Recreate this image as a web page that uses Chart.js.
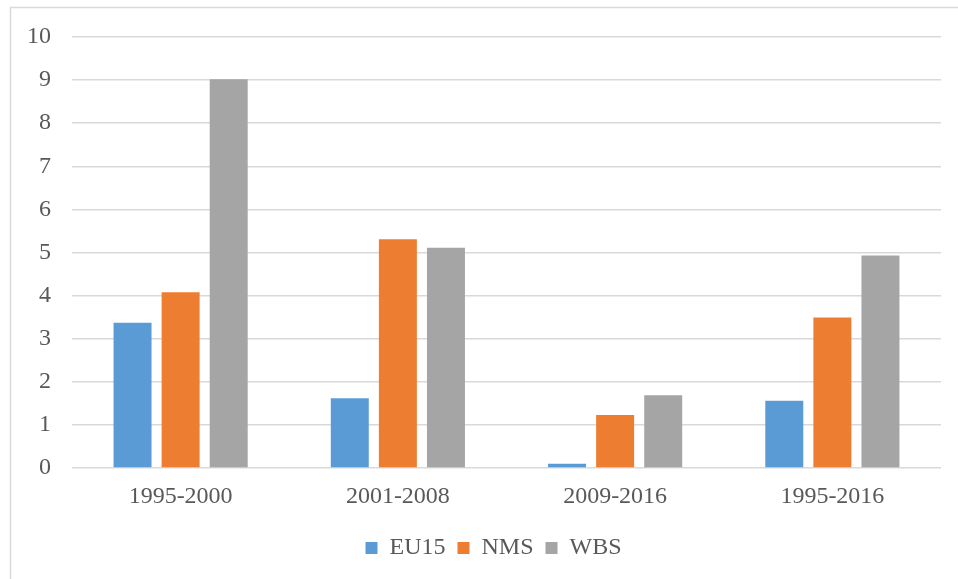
<!DOCTYPE html>
<html>
<head>
<meta charset="utf-8">
<script src="https://cdn.jsdelivr.net/npm/chart.js@4"></script>
<style>
  body { margin: 0; background: #fff; }
  #wrap { width: 958px; height: 579px; position: relative; }
</style>
</head>
<body>
<div id="wrap"><canvas id="myChart"></canvas></div>
<script>
// data
const periods = ["1995-2000", "2001-2008", "2009-2016", "1995-2016"];
const eu15 = [3.37, 1.62, 0.1, 1.56];
const nms = [4.08, 5.31, 1.23, 3.49];
const wbs = [9.02, 5.11, 1.69, 4.93];
const yTicks = [0, 1, 2, 3, 4, 5, 6, 7, 8, 9, 10];

const textColor = "#595959";
const gridColor = "#d9d9d9";
const fontFamily = "'Liberation Serif', 'Times New Roman', serif";

// light frame round the chart, like the office chart box
const framePlugin = {
  id: "frame",
  beforeDraw(chart) {
    const c = chart.ctx;
    c.save();
    c.fillStyle = "#fff";
    c.fillRect(0, 0, chart.width, chart.height);
    c.strokeStyle = gridColor;
    c.lineWidth = 1.5;
    c.beginPath();
    c.moveTo(10.5, chart.height);
    c.lineTo(10.5, 7.5);
    c.lineTo(chart.width, 7.5);
    c.stroke();
    c.restore();
  },
};

// nudge the legend a bit to the right, the reference centres it there
const legendShift = {
  id: "legendShift",
  afterLayout(chart) {
    chart.legend.left += 23;
    chart.legend.right += 23;
  },
};

const ctx = document.getElementById("myChart");
new Chart(ctx, {
  type: "bar",
  data: {
    labels: periods,
    datasets: [
      { label: "EU15", data: eu15, backgroundColor: "#5b9bd5" },
      { label: "NMS", data: nms, backgroundColor: "#ed7d31" },
      { label: "WBS", data: wbs, backgroundColor: "#a5a5a5" },
    ],
  },
  options: {
    responsive: true,
    maintainAspectRatio: false,
    animation: false,
    categoryPercentage: 0.664,
    barPercentage: 0.79,
    layout: { padding: { top: 37, right: 17, bottom: 9, left: 0 } },
    plugins: {
      legend: {
        position: "bottom",
        labels: {
          boxWidth: 12,
          boxHeight: 12,
          padding: 12,
          color: textColor,
          font: { family: fontFamily, size: 24 },
        },
      },
      tooltip: { enabled: false },
    },
    scales: {
      x: {
        grid: { display: false, drawTicks: false },
        border: { display: false },
        ticks: {
          color: textColor,
          padding: 14,
          font: { family: fontFamily, size: 24 },
        },
        afterFit(scale) {
          scale.height = 56;
        },
      },
      y: {
        min: 0,
        max: 10,
        afterBuildTicks(scale) {
          scale.ticks = yTicks.map((v) => ({ value: v }));
        },
        grid: { color: gridColor, lineWidth: 1.5, drawTicks: false },
        border: { display: false },
        ticks: {
          color: textColor,
          padding: 21,
          font: { family: fontFamily, size: 24 },
        },
        afterFit(scale) {
          scale.width = 72;
        },
      },
    },
  },
  plugins: [framePlugin, legendShift],
});
</script>
</body>
</html>
